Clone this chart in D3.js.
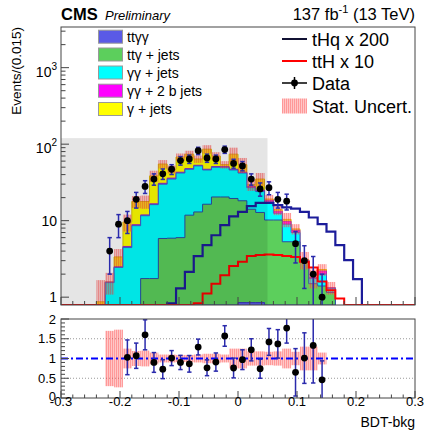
<!DOCTYPE html>
<html><head><meta charset="utf-8">
<script src="https://cdn.jsdelivr.net/npm/d3@7"></script>
<style>body{margin:0;background:#fff}svg{display:block}text{font-family:"Liberation Sans",Arial,Helvetica,sans-serif;fill:#000}</style>
</head><body>
<svg id="c" width="424" height="430"></svg>
<script>
// ---------------- data (40 bins of width 0.015 from -0.3) ----------------
const binLow = -0.3, binWidth = 0.015, nBins = 40;
const ttgg   = [0,0,0,0,0.01,0.02,0.03,0.05,0.07,0.1, 0.12,0.15,0.18,0.22,0.26,0.3,0.35,0.4,0.45,0.55, 0.85,0.85,0.85,0.7,0.6,0.5,0.4,0.3,0.25,0.2, 0.15,0,0,0,0,0,0,0,0,0];
const ttgj   = [0,0,0,0,0.04,0.08,0.17,0.3,0.43,1.65, 1.63,5.7,5.72,5.78,11.54,12.7,16.05,20,19.95,18.95, 17.35,13.25,11.95,9.5,9.6,4.8,4.9,2.6,1.25,1.2, 1.0,0,0,0,0,0,0,0,0,0];
const ggj    = [0,0,0,0,0.25,1.45,2.25,4.1,8.1,9.85, 14.45,24.15,29.1,36,35.2,39,29.6,29.6,29.6,26.5, 23.8,12.9,11.2,7.3,2.3,3.7,1.7,0.1,0.25,0.6, 0.15,0,0,0,0,0,0,0,0,0];
const gg2b   = [0,0,0,0,0.01,0.03,0.05,0.15,0.25,0.3, 0.4,0.8,1,1,1,1,1,1,1,1, 1,1,1,1,0.8,0.8,0.5,0.05,0.05,0.2, 0.03,0,0,0,0,0,0,0,0,0];
const gjets  = [0,0,0,0,0.56,0,0.86,5.0,8.95,5.9, 21.9,24.2,11,25,26,11,39,19,3,27, 11,1.5,10,0.7,0.7,0.6,0.3,0.05,0,0.1, 0,0,0,0,0,0,0,0,0,0];
const tHq200 = [0,0,0,0,0,0,0,0,0,0, 0,0.5,0.83,1.3,2.14,3.43,4.78,6.45,8.74,11.4, 13,15.5,17.1,17.1,16,14.9,14.4,13,11,9, 7.2,4.78,3.05,1.72,0,0,0,0,0,0];
const ttH10  = [0,0,0,0,0,0,0,0,0,0, 0,0,0,0,0.5,0.83,1.12,1.5,1.94,2.55, 2.9,3.45,3.55,3.6,3.55,3.45,3.35,2.9,2.45,1.6, 1.23,0.96,0,0,0,0,0,0,0,0];
const mcStatErr = [0,0,0,0,0.8,0.5,0.9,2.4,3.2,3.5, 6.5,7,5.5,7.5,8,7,11,8.5,6,16, 12,5,7,2.5,2.2,2.2,1.2,0.8,0.5,0.4, 0.25,0,0,0,0,0,0,0,0,0];
const dataVal = [null,null,null,null,null,4,9,10,19,28, 35,41,47,61,64,82,66,64,85,56, 52,35,26,27,19,18,5,3,2,1, null,null,null,null,null,null,null,null,null,null];
const dataErr = [0,0,0,0,0,2,3,3.2,4.4,5.3, 5.9,6.4,6.9,7.8,8,9,8.1,8,9.2,7.5, 7.2,5.9,5.1,5.2,4.4,4.2,2.2,1.7,1.4,1.0, 0,0,0,0,0,0,0,0,0,0];
const ratioVal = [null,null,null,null,null,null,null,1.03,1.07,1.60, 0.90,0.73,1.01,0.90,0.865,1.29,0.765,0.91,1.57,0.76, 0.97,1.22,0.74,1.42,1.37,1.77,0.65,1.01,1.33,0.46, null,null,null,null,null,null,null,null,null,null];
const ratioErr = [0,0,0,0,0,0,0,0.44,0.32,0.38, 0.25,0.24,0.19,0.18,0.21,0.2,0.2,0.23,0.26,0.25, 0.25,0.28,0.24,0.34,0.36,0.38,0.6,0.64,0.95,0.48, 0,0,0,0,0,0,0,0,0,0];
const ratioBand = [null,null,null,null,null,0.7,0.73,0.25,0.19,0.2, 0.15,0.1,0.1,0.09,0.09,0.1,0.12,0.12,0.1,0.25, 0.25,0.18,0.18,0.17,0.18,0.25,0.17,0.3,0.3,0.15, null,null,null,null,null,null,null,null,null,null];
const blindRange = [-0.3, 0.05], blindTop = 120;
const xTicks = [-0.3,-0.2,-0.1,0,0.1,0.2,0.3];
const xTickLabels = ["-0.3","-0.2","-0.1","0","0.1","0.2","0.3"];
const ratioTicks = [0,0.5,1,1.5,2];
const ratioTickLabels = ["0","0.5","1","1.5","2"];
const mainTicks = [1,10,100,1000];
const layers = [
  {name:"tt\u03b3\u03b3", vals:ttgg, fill:"#5a5ae6", stroke:"#3a3ab8"},
  {name:"tt\u03b3 + jets", vals:ttgj, fill:"#5ccf5c", stroke:"#2b4ca6"},
  {name:"\u03b3\u03b3 + jets", vals:ggj, fill:"#00ffff", stroke:"#3a62d0"},
  {name:"\u03b3\u03b3 + 2 b jets", vals:gg2b, fill:"#ff00ff", stroke:"#9a2ac0"},
  {name:"\u03b3 + jets", vals:gjets, fill:"#ffff00", stroke:"#d8c800"}
];

// ---------------- layout ----------------
const svg = d3.select("#c");
const L=61, R=415, T1=27, B1=305, T2=319, B2=398;
const x  = d3.scaleLinear().domain([-0.3,0.3]).range([L,R]);
const y  = d3.scaleLog().domain([0.79,3400]).range([B1,T1]);
const yr = d3.scaleLinear().domain([0,2]).range([B2,T2]);
const yMin=0.79, yMax=3400;
const yc = v => y(Math.min(Math.max(v,yMin),yMax*2));
const edges = d3.range(nBins+1).map(i => binLow + i*binWidth);

const defs = svg.append("defs");
const pat = defs.append("pattern").attr("id","hatch").attr("width",2).attr("height",2).attr("patternUnits","userSpaceOnUse");
pat.append("rect").attr("width",2).attr("height",2).attr("fill","rgba(255,100,100,0.36)");
pat.append("rect").attr("width",1).attr("height",2).attr("fill","rgba(255,30,30,0.28)");
defs.append("clipPath").attr("id","clipM").append("rect").attr("x",L).attr("y",T1).attr("width",R-L).attr("height",B1-T1);
defs.append("clipPath").attr("id","clipR").append("rect").attr("x",L).attr("y",T2).attr("width",R-L).attr("height",B2-T2);

const gM = svg.append("g").attr("clip-path","url(#clipM)");

function stepPath(vals, first, last, yfn){
  let p = `M${x(edges[first])},${yfn(0)}`;
  for(let i=first;i<=last;i++){
    p += `L${x(edges[i])},${yfn(vals[i])}L${x(edges[i+1])},${yfn(vals[i])}`;
  }
  p += `L${x(edges[last+1])},${yfn(0)}`;
  return p;
}
function range(vals){
  let f=-1,l=-1; vals.forEach((v,i)=>{ if(v>0){ if(f<0) f=i; l=i; } });
  return [f,l];
}

let cum = new Array(nBins).fill(0);
const cums = layers.map(l => { cum = cum.map((c,i)=>c+l.vals[i]); return cum.slice(); });
for(let k=layers.length-1;k>=0;k--){
  const c = cums[k]; const [f,l] = range(c);
  const d = stepPath(c, f, l, yc);
  gM.append("path").attr("d", d+"Z").attr("fill", layers[k].fill).attr("stroke","none");
  gM.append("path").attr("d", d).attr("fill","none").attr("stroke", layers[k].stroke).attr("stroke-width",1);
}
const total = cums[cums.length-1];

total.forEach((t,i)=>{
  if(!(mcStatErr[i]>0)) return;
  const lo = yc(t - mcStatErr[i]), hi = yc(t + mcStatErr[i]);
  gM.append("rect").attr("x", x(edges[i])).attr("width", x(edges[i+1])-x(edges[i]))
    .attr("y", hi).attr("height", Math.max(0, lo-hi)).attr("fill","url(#hatch)");
});

function fullStep(vals){
  let p = `M${x(edges[0])},${yc(vals[0])}`;
  for(let i=0;i<nBins;i++){
    p += `L${x(edges[i])},${yc(vals[i])}L${x(edges[i+1])},${yc(vals[i])}`;
  }
  return p;
}
gM.append("path").attr("d", fullStep(tHq200)).attr("fill","none").attr("stroke","#1c1c9a").attr("stroke-width",2.2);
gM.append("path").attr("d", fullStep(ttH10)).attr("fill","none").attr("stroke","#ff0000").attr("stroke-width",2);

gM.append("rect").attr("x", x(blindRange[0])).attr("width", x(blindRange[1])-x(blindRange[0]))
  .attr("y", y(blindTop)).attr("height", B1 - y(blindTop)).attr("fill","#000").attr("opacity",0.1);

const errCol = "#2a2aac";
dataVal.forEach((v,i)=>{
  if(v===null) return;
  const cx = x(binLow + (i+0.5)*binWidth);
  const y0 = yc(v - dataErr[i]), y1 = yc(v + dataErr[i]);
  gM.append("line").attr("x1",cx).attr("x2",cx).attr("y1",y0).attr("y2",y1).attr("stroke",errCol).attr("stroke-width",1.5);
  [y0,y1].forEach(yy=>{ if(yy<B1-0.5) gM.append("line").attr("x1",cx-2.2).attr("x2",cx+2.2).attr("y1",yy).attr("y2",yy).attr("stroke",errCol).attr("stroke-width",1.5); });
  gM.append("circle").attr("cx",cx).attr("cy",yc(v)).attr("r",3.4).attr("fill","#000");
});

svg.append("rect").attr("x",L).attr("y",T1).attr("width",R-L).attr("height",B1-T1).attr("fill","none").attr("stroke","#444").attr("stroke-width",1);
for(let k=0;k<=3;k++){
  for(let m=1;m<=9;m++){
    const v = m*Math.pow(10,k);
    if(v<yMin||v>yMax) continue;
    const len = m===1?8:4.5;
    svg.append("line").attr("x1",L).attr("x2",L+len).attr("y1",y(v)).attr("y2",y(v)).attr("stroke","#444");
  }
}
mainTicks.forEach((v,k)=>{
  const t = svg.append("text").attr("x",57).attr("text-anchor","end").attr("font-size",14);
  if(k<2){ t.attr("y", y(v)+5).text(String(v)); }
  else { t.attr("y", y(v)+9).text("10"); t.append("tspan").attr("dy",-7).attr("font-size",10).text(String(k)); }
});
function xAxisTicks(yb, maj, mnr){
  for(let i=0;i<=30;i++){
    const v = -0.3 + i*0.02;
    const major = (i%5===0);
    svg.append("line").attr("x1",x(v)).attr("x2",x(v)).attr("y1",yb).attr("y2",yb-(major?maj:mnr)).attr("stroke","#444");
  }
}
xAxisTicks(B1, 8, 4);

svg.append("text").attr("transform",`translate(21,${T1}) rotate(-90)`).attr("text-anchor","end").attr("font-size",13.5).text("Events/(0.015)");

svg.append("text").attr("x",61).attr("y",19.5).attr("font-size",16.5).attr("font-weight","bold").text("CMS");
svg.append("text").attr("x",105).attr("y",19.5).attr("font-size",13).attr("font-style","italic").text("Preliminary");
const lum = svg.append("text").attr("x",415).attr("y",20).attr("text-anchor","end").attr("font-size",16.5);
lum.append("tspan").text("137 fb");
lum.append("tspan").attr("dy",-7).attr("font-size",11).text("-1");
lum.append("tspan").attr("dy",7).text(" (13 TeV)");

const legL = svg.append("g");
const rowsL = [36.7,54.5,72.5,90.7,109];
layers.forEach((l,i)=>{
  legL.append("rect").attr("x",98.5).attr("y",rowsL[i]-6.5).attr("width",24).attr("height",13).attr("fill",l.fill).attr("stroke","#999").attr("stroke-width",1);
  legL.append("text").attr("x",127).attr("y",rowsL[i]+5).attr("font-size",14).text(l.name);
});
const rowsR = [39,61,83,106];
legL.append("line").attr("x1",282).attr("x2",307).attr("y1",rowsR[0]).attr("y2",rowsR[0]).attr("stroke","#111133").attr("stroke-width",2);
legL.append("line").attr("x1",282).attr("x2",307).attr("y1",rowsR[1]).attr("y2",rowsR[1]).attr("stroke","#ff0000").attr("stroke-width",2);
legL.append("line").attr("x1",282).attr("x2",307).attr("y1",rowsR[2]).attr("y2",rowsR[2]).attr("stroke","#000").attr("stroke-width",1.5);
legL.append("line").attr("x1",294.5).attr("x2",294.5).attr("y1",rowsR[2]-6).attr("y2",rowsR[2]+6).attr("stroke","#000").attr("stroke-width",1.5);
legL.append("circle").attr("cx",294.5).attr("cy",rowsR[2]).attr("r",3.4).attr("fill","#000");
legL.append("rect").attr("x",282).attr("y",rowsR[3]-7.5).attr("width",25).attr("height",15).attr("fill","url(#hatch)");
["tHq x 200","ttH x 10","Data","Stat. Uncert."].forEach((s,i)=>{
  legL.append("text").attr("x",312).attr("y",rowsR[i]+6.5).attr("font-size",18).text(s);
});

// ---------------- ratio panel ----------------
const gR = svg.append("g").attr("clip-path","url(#clipR)");
[0.5,1.5].forEach(v=>{
  gR.append("line").attr("x1",L).attr("x2",R).attr("y1",yr(v)).attr("y2",yr(v)).attr("stroke","#999").attr("stroke-dasharray","1,2");
});
ratioBand.forEach((b,i)=>{
  if(b===null) return;
  gR.append("rect").attr("x",x(edges[i])).attr("width",x(edges[i+1])-x(edges[i]))
    .attr("y",yr(1+b)).attr("height",yr(1-b)-yr(1+b)).attr("fill","url(#hatch)");
});
gR.append("line").attr("x1",L).attr("x2",R).attr("y1",yr(1)).attr("y2",yr(1)).attr("stroke","#0000ff").attr("stroke-width",2).attr("stroke-dasharray","7,3,2,3");
ratioVal.forEach((v,i)=>{
  if(v===null) return;
  const cx = x(binLow + (i+0.5)*binWidth);
  const y0 = yr(Math.max(0,v-ratioErr[i])), y1 = yr(Math.min(2.05,v+ratioErr[i]));
  gR.append("line").attr("x1",cx).attr("x2",cx).attr("y1",y0).attr("y2",y1).attr("stroke",errCol).attr("stroke-width",1.5);
  [y0,y1].forEach(yy=>{ if(yy<B2-0.5 && yy>T2+0.5) gR.append("line").attr("x1",cx-2.2).attr("x2",cx+2.2).attr("y1",yy).attr("y2",yy).attr("stroke",errCol).attr("stroke-width",1.5); });
  gR.append("circle").attr("cx",cx).attr("cy",yr(v)).attr("r",3.4).attr("fill","#000");
});
svg.append("rect").attr("x",L).attr("y",T2).attr("width",R-L).attr("height",B2-T2).attr("fill","none").attr("stroke","#444").attr("stroke-width",1);
ratioTicks.forEach((v,i)=>{
  svg.append("line").attr("x1",L).attr("x2",L+8).attr("y1",yr(v)).attr("y2",yr(v)).attr("stroke","#444");
  svg.append("text").attr("x",56).attr("y",yr(v)+(v===0?2.5:4.5)).attr("text-anchor","end").attr("font-size",13).text(ratioTickLabels[i]);
});
for(let i=1;i<20;i++){ if(i%5) svg.append("line").attr("x1",L).attr("x2",L+4).attr("y1",yr(i*0.1)).attr("y2",yr(i*0.1)).attr("stroke","#444"); }
xAxisTicks(B2, 7, 3.5);
xTicks.forEach((v,i)=>{
  svg.append("text").attr("x",x(v)).attr("y",406).attr("text-anchor","middle").attr("font-size",13).text(xTickLabels[i]);
});
svg.append("text").attr("x",415).attr("y",427).attr("text-anchor","end").attr("font-size",14).text("BDT-bkg");
</script>
</body></html>
